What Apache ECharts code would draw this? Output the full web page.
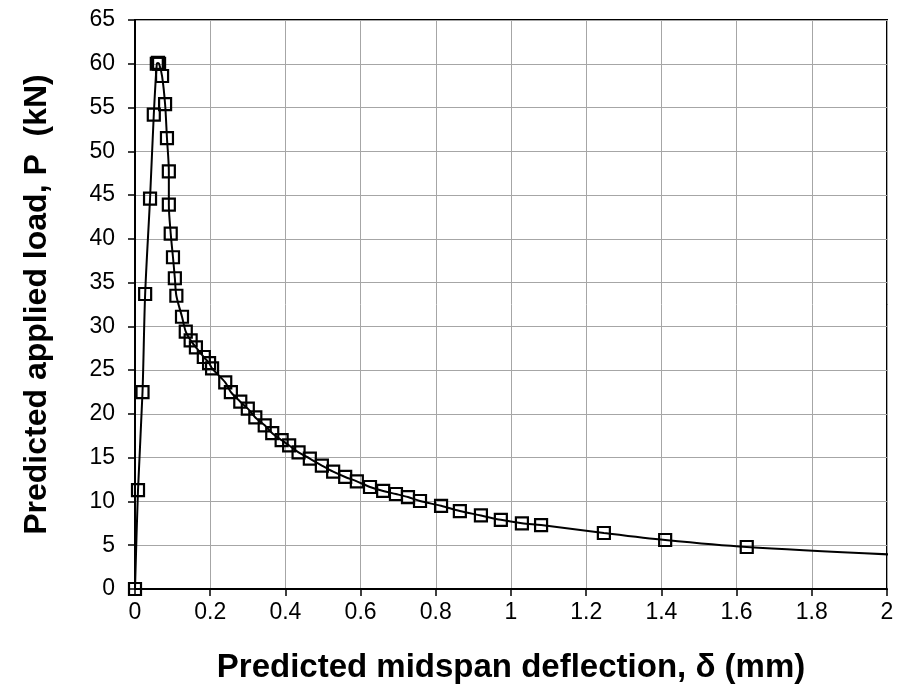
<!DOCTYPE html>
<html>
<head>
<meta charset="utf-8">
<script src="https://cdn.jsdelivr.net/npm/echarts@6/dist/echarts.min.js"></script>
<style>
  html, body { margin: 0; padding: 0; background: #fff; }
  #chart { width: 902px; height: 689px; }
</style>
</head>
<body>
<div id="chart"></div>
<script>
// midspan deflection (mm) of each predicted point
const deflection = [
  0, 0.008, 0.02, 0.027, 0.04, 0.05, 0.058, 0.061, 0.064,
  0.072, 0.08, 0.085, 0.09, 0.09, 0.095, 0.101, 0.106, 0.11,
  0.125, 0.135, 0.148, 0.162, 0.183, 0.197, 0.205, 0.24, 0.255,
  0.28, 0.3, 0.32, 0.345, 0.365, 0.39, 0.41, 0.435, 0.465,
  0.497, 0.527, 0.559, 0.59, 0.625, 0.66, 0.694, 0.726, 0.758,
  0.814, 0.864, 0.92, 0.973, 1.029, 1.08, 1.247, 1.41, 1.627
];
// applied load (kN) at each point
const load = [
  0, 11.3, 22.5, 33.7, 44.6, 54.2, 60, 60.1, 60,
  58.6, 55.4, 51.5, 47.7, 43.9, 40.6, 37.9, 35.5, 33.5,
  31.1, 29.4, 28.4, 27.6, 26.5, 25.8, 25.2, 23.6, 22.5,
  21.4, 20.6, 19.6, 18.7, 17.8, 17.0, 16.4, 15.6, 14.9,
  14.1, 13.4, 12.8, 12.3, 11.65, 11.2, 10.85, 10.5, 10.05,
  9.5, 8.9, 8.4, 7.9, 7.5, 7.3, 6.4, 5.6, 4.8
];
// the curve runs on past the last marker
const tailDeflection = 2.03;
const tailLoad = 3.9;

const xTicks = { min: 0, max: 2, step: 0.2 };
const yTicks = { min: 0, max: 65, step: 5 };

const pts = deflection.map((d, i) => [d, load[i]]);
pts.push({ value: [tailDeflection, tailLoad], symbolSize: 0 });

const font = 'Liberation Sans, Arial, sans-serif';

const chart = echarts.init(document.getElementById('chart'));
chart.setOption({
  animation: false,
  backgroundColor: '#fff',
  grid: {
    left: 135, right: 15, top: 20, bottom: 100,
    show: true,
    borderColor: '#000',
    borderWidth: 2,
    backgroundColor: 'transparent'
  },
  xAxis: {
    type: 'value',
    min: xTicks.min, max: xTicks.max, interval: xTicks.step,
    name: 'Predicted midspan deflection, δ (mm)',
    nameLocation: 'middle',
    nameGap: 62,
    nameTextStyle: { fontFamily: font, fontSize: 33, fontWeight: 'bold', color: '#000' },
    axisLine: { show: true, lineStyle: { color: '#000', width: 2 } },
    axisTick: { show: true, inside: false, length: 7, lineStyle: { color: '#000', width: 1.5 } },
    axisLabel: { fontFamily: font, fontSize: 23, color: '#000', margin: 12 },
    splitLine: { show: true, lineStyle: { color: '#a6a6a6', width: 1 } }
  },
  yAxis: {
    type: 'value',
    min: yTicks.min, max: yTicks.max, interval: yTicks.step,
    name: 'Predicted applied load, P  (kN)',
    nameLocation: 'middle',
    nameGap: 82,
    nameTextStyle: { fontFamily: font, fontSize: 32, fontWeight: 'bold', color: '#000' },
    axisLine: { show: true, lineStyle: { color: '#000', width: 2 } },
    axisTick: { show: true, inside: false, length: 7, lineStyle: { color: '#000', width: 1.5 } },
    axisLabel: { fontFamily: font, fontSize: 23, color: '#000', margin: 20 },
    splitLine: { show: true, lineStyle: { color: '#a6a6a6', width: 1 } }
  },
  series: [{
    type: 'line',
    data: pts,
    clip: false,
    smooth: 0.3,
    symbol: 'rect',
    symbolSize: 12,
    showAllSymbol: true,
    lineStyle: { color: '#000', width: 2 },
    itemStyle: { color: 'rgba(255,255,255,0)', borderColor: '#000', borderWidth: 2.2 }
  }]
});
</script>
</body>
</html>
